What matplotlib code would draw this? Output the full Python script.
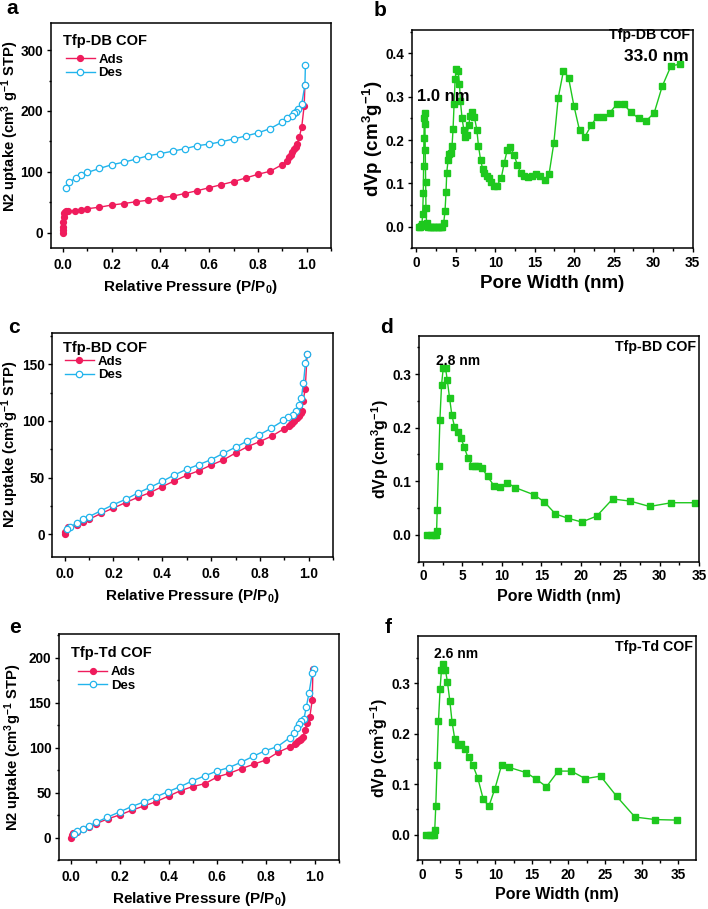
import matplotlib.pyplot as plt
from matplotlib.ticker import MultipleLocator

plt.rcParams['font.family'] = ['Liberation Sans', 'DejaVu Sans']
plt.rcParams['font.weight'] = 'bold'
plt.rcParams['axes.labelweight'] = 'bold'
plt.rcParams['mathtext.fontset'] = 'custom'
plt.rcParams['mathtext.rm'] = 'Liberation Sans:bold'
plt.rcParams['mathtext.it'] = 'Liberation Sans:bold'
plt.rcParams['mathtext.bf'] = 'Liberation Sans:bold'

ADS_COLOR = '#ef1c5c'
DES_COLOR = '#22b4ec'
PSD_COLOR = '#1ec81e'

# --- Tfp-DB COF isotherm (a)
db_ads_p = [0, 0.0005, 0.001, 0.002, 0.003, 0.005, 0.008, 0.012, 0.023, 0.05, 0.075, 0.1,
            0.15, 0.2, 0.25, 0.3, 0.35, 0.4, 0.45, 0.5, 0.55, 0.6, 0.65, 0.7, 0.75, 0.8,
            0.85, 0.9, 0.92, 0.927, 0.934, 0.94, 0.948, 0.955, 0.96, 0.97, 0.98, 0.99, 0.993]
db_ads_v = [0, 4, 10, 18, 26, 32, 34, 35, 36, 36.5, 38, 39.5,
            42, 45.5, 48, 51, 53.5, 57.5, 60, 64.5, 69, 74, 79, 84, 90, 96,
            101, 112, 118, 124, 128, 133, 137, 141, 145, 157, 174, 209, 243]
db_des_p = [0.995, 0.993, 0.98, 0.965, 0.957, 0.948, 0.938, 0.92, 0.9, 0.85, 0.8, 0.75,
            0.7, 0.65, 0.6, 0.55, 0.5, 0.45, 0.4, 0.35, 0.3, 0.25, 0.2, 0.15, 0.1,
            0.075, 0.052, 0.026, 0.011]
db_des_v = [275, 243, 212, 203, 199, 196, 192, 189, 182, 171, 164, 159,
            154, 149.5, 145.6, 143, 138, 134, 130, 126.5, 121, 116, 111.7, 105.6, 99,
            94.7, 89.8, 83, 74]

# --- Tfp-DB COF pore size distribution (b)
db_w = [0.38, 0.5, 0.62, 0.72, 0.81, 0.89, 0.93, 0.97, 1.02, 1.06, 1.1, 1.14, 1.19, 1.23,
        1.31, 1.5, 1.7, 1.9, 2.1, 2.3, 2.5, 2.7, 2.9, 3.1, 3.3, 3.47, 3.64, 3.77, 3.86,
        4.03, 4.19, 4.41, 4.53, 4.66, 4.79, 4.92, 5.08, 5.3, 5.47, 5.59, 5.8, 6.02, 6.19,
        6.4, 6.65, 6.82, 7.08, 7.37, 7.67, 7.88, 8.14, 8.39, 8.64, 8.98, 9.19, 9.49, 9.83,
        10.17, 10.76, 11.14, 11.53, 11.91, 12.37, 12.8, 13.22, 13.69, 14.15, 14.62, 15.13,
        15.72, 16.27, 16.82, 17.42, 17.97, 18.64, 19.28, 19.96, 20.68, 21.36, 22.16, 22.88,
        23.69, 24.49, 25.38, 26.27, 27.2, 28.14, 29.11, 30.13, 31.14, 32.25, 33.35]
db_dv = [0, 0, 0.002, 0.005, 0.03, 0.077, 0.139, 0.205, 0.25, 0.263, 0.236, 0.178, 0.104, 0.042,
         0.008, 0, 0, 0, 0, 0, 0, 0, 0, 0, 0, 0.008, 0.035, 0.08, 0.124,
         0.154, 0.167, 0.17, 0.186, 0.225, 0.283, 0.34, 0.365, 0.36, 0.33, 0.29, 0.25, 0.224, 0.208,
         0.212, 0.234, 0.256, 0.265, 0.252, 0.224, 0.186, 0.155, 0.134, 0.124, 0.118, 0.112, 0.103, 0.093,
         0.093, 0.112, 0.147, 0.178, 0.184, 0.166, 0.143, 0.124, 0.117, 0.114, 0.118, 0.122,
         0.117, 0.107, 0.122, 0.193, 0.297, 0.36, 0.344, 0.279, 0.222, 0.208, 0.234, 0.254,
         0.252, 0.263, 0.282, 0.282, 0.264, 0.25, 0.244, 0.263, 0.324, 0.371, 0.375]

# --- Tfp-BD COF isotherm (c)
bd_ads_p = [0, 0.002, 0.016, 0.05, 0.075, 0.1, 0.15, 0.2, 0.25, 0.3, 0.35, 0.4, 0.45, 0.5,
            0.55, 0.6, 0.65, 0.7, 0.75, 0.8, 0.85, 0.9, 0.918, 0.925, 0.93, 0.94, 0.945,
            0.952, 0.96, 0.966, 0.97, 0.976, 0.985, 0.993]
bd_ads_v = [0, 1.5, 5.9, 8.3, 11, 13, 18.3, 23, 27.8, 32.5, 36.6, 42, 47, 52,
            56, 61, 65.5, 71.7, 77.4, 81.8, 86.8, 93.3, 95.7, 97, 98.6, 100, 101.6,
            103, 104.5, 107, 108.7, 117.5, 128, 159.4]
bd_des_p = [0.993, 0.986, 0.978, 0.969, 0.958, 0.947, 0.935, 0.915, 0.896, 0.846, 0.795,
            0.746, 0.7, 0.65, 0.6, 0.55, 0.5, 0.45, 0.4, 0.35, 0.3, 0.25, 0.2, 0.15, 0.1,
            0.075, 0.05, 0.023, 0.01]
bd_des_v = [159.4, 151.5, 133.5, 120, 113.7, 108.6, 105.4, 103.3, 100.4, 93.6, 87.4,
            82, 76.8, 71.4, 65.8, 61.4, 57.3, 52.3, 46.6, 41.3, 36.3, 30.7, 26, 20.7, 15.4,
            13, 9.4, 6.5, 4.7]

# --- Tfp-BD COF pore size distribution (d)
bd_w = [0.55, 1.05, 1.4, 1.65, 1.73, 1.81, 1.98, 2.15, 2.36, 2.57, 2.87, 3.08, 3.38, 3.67,
        4.0, 4.39, 4.81, 5.23, 5.7, 6.24, 6.54, 6.92, 7.51, 8.19, 8.99, 9.83, 10.72, 11.73,
        14.05, 15.36, 16.8, 18.4, 20.13, 22.03, 24.05, 26.29, 28.73, 31.5, 34.47]
bd_dv = [0, 0, 0, 0, 0.007, 0.047, 0.128, 0.215, 0.28, 0.311, 0.311, 0.289, 0.255, 0.223,
         0.202, 0.192, 0.181, 0.164, 0.144, 0.129, 0.129, 0.128, 0.124, 0.109, 0.092, 0.09, 0.097, 0.088,
         0.075, 0.062, 0.039, 0.031, 0.024, 0.035, 0.067, 0.063, 0.053, 0.06, 0.06]

# --- Tfp-Td COF isotherm (e)
td_ads_p = [0, 0.002, 0.008, 0.025, 0.05, 0.075, 0.1, 0.15, 0.2, 0.25, 0.3, 0.35, 0.4, 0.45,
            0.5, 0.55, 0.6, 0.65, 0.7, 0.75, 0.8, 0.85, 0.9, 0.92, 0.925, 0.932, 0.94,
            0.945, 0.952, 0.96, 0.969, 0.98, 0.99, 0.993]
td_ads_v = [0, 2.6, 4.8, 6.5, 9, 12, 15.2, 20.7, 25.2, 30.4, 35.2, 40, 46, 52.2,
            56.7, 60, 67.4, 71.5, 76.7, 81.5, 86.3, 94.8, 101, 104, 105.6, 107, 108.5,
            110, 112, 120, 127, 133.7, 153, 187.4]
td_des_p = [0.996, 0.99, 0.977, 0.966, 0.956, 0.945, 0.936, 0.928, 0.917, 0.898, 0.847,
            0.798, 0.748, 0.698, 0.648, 0.6, 0.548, 0.498, 0.449, 0.398, 0.348, 0.299,
            0.248, 0.199, 0.149, 0.104, 0.075, 0.049, 0.025, 0.011]
td_des_v = [187.4, 182.6, 161, 145.6, 132, 129.6, 126, 121.5, 116.7, 111, 101,
            96.7, 90.4, 83.7, 77.8, 74, 68.5, 63, 56.7, 51, 45.2, 39.6,
            34.4, 28.5, 22.6, 17, 13.3, 10, 7, 4]

# --- Tfp-Td COF pore size distribution (f)
td_w = [0.59, 1.05, 1.41, 1.64, 1.73, 1.87, 2.05, 2.24, 2.46, 2.65, 2.92, 3.19, 3.47, 3.79,
        4.1, 4.47, 4.88, 5.29, 5.84, 6.39, 6.93, 7.62, 8.35, 9.12, 9.95, 10.86, 11.86,
        14.23, 15.6, 17.0, 18.6, 20.4, 22.3, 24.4, 26.6, 29.1, 31.9, 34.8]
td_dv = [0, 0, 0, 0, 0.01, 0.056, 0.139, 0.225, 0.289, 0.327, 0.337, 0.326, 0.302, 0.265,
         0.223, 0.189, 0.177, 0.18, 0.17, 0.153, 0.138, 0.112, 0.071, 0.056, 0.091, 0.1375, 0.1335,
         0.123, 0.11, 0.095, 0.126, 0.126, 0.111, 0.116, 0.076, 0.035, 0.03, 0.029]


def style_axis(ax, xmaj, ymaj, xpad):
    ax.xaxis.set_major_locator(MultipleLocator(xmaj))
    ax.xaxis.set_minor_locator(MultipleLocator(xmaj / 2))
    ax.yaxis.set_major_locator(MultipleLocator(ymaj))
    ax.yaxis.set_minor_locator(MultipleLocator(ymaj / 2))
    ax.tick_params(which='both', direction='out', width=1.0, labelsize=9.8, top=False, right=False)
    ax.tick_params(which='major', length=3)
    ax.tick_params(which='minor', length=1.8)
    ax.tick_params(axis='y', pad=2.5)
    ax.tick_params(axis='x', pad=xpad)
    for s in ax.spines.values():
        s.set_linewidth(1.1)


def isotherm(ax, ads_p, ads_v, des_p, des_v, name, ylim, ymaj, ylabel,
             title_xy, leg_xy, lab_x, lab_y):
    ax.plot(ads_p, ads_v, '-o', color=ADS_COLOR, ms=4.2, lw=1.0, label='Ads')
    ax.plot(des_p, des_v, '-o', color=DES_COLOR, mfc='white', mec=DES_COLOR, mew=0.9,
            ms=4.6, lw=1.0, label='Des')
    ax.set_xlim(-0.05, 1.1)
    ax.set_ylim(*ylim)
    style_axis(ax, 0.2, ymaj, 4.5)
    ax.xaxis.set_major_formatter(lambda v, pos: '%.1f' % v)
    ax.set_xlabel('Relative Pressure (P/P$_0$)', fontsize=11)
    ax.set_ylabel(ylabel, fontsize=10.6)
    ax.yaxis.set_label_coords(lab_x, lab_y)
    ax.text(title_xy[0], title_xy[1], name, transform=ax.transAxes, ha='left', va='center',
            fontsize=10.5)
    ax.legend(loc='upper left', bbox_to_anchor=leg_xy, frameon=False, fontsize=9.5,
              handlelength=2.2, handletextpad=0.3, labelspacing=0.1,
              borderpad=0, borderaxespad=0)


def psd(ax, w, dv, name, ylim, xlim, name_y, peak_text, peak_xy, peak_size, lab_x, lab_size):
    ax.plot(w, dv, '-s', color=PSD_COLOR, ms=3.7, lw=1.0)
    ax.set_xlim(*xlim)
    ax.set_ylim(*ylim)
    style_axis(ax, 5, 0.1, 2.5)
    ax.yaxis.set_major_formatter(lambda v, pos: '%.1f' % v)
    ax.set_xlabel('Pore Width (nm)', fontsize=lab_size)
    ax.set_ylabel('dVp (cm$^3$g$^{-1}$)', fontsize=lab_size)
    ax.yaxis.set_label_coords(lab_x, 0.5)
    ax.text(0.99, name_y, name, transform=ax.transAxes, ha='right', va='center', fontsize=10.2)
    ax.text(peak_xy[0], peak_xy[1], peak_text, ha='left', va='center', fontsize=peak_size)


fig = plt.figure(figsize=(7.08, 9.09), dpi=100)
W, H = 708, 909


def add_axes(left, top, right, bottom):
    return fig.add_axes([left / W, 1 - bottom / H, (right - left) / W, (bottom - top) / H])


ax_a = add_axes(50.7, 22.7, 331, 248)
ax_b = add_axes(412.3, 30, 692.7, 248.3)
ax_c = add_axes(52.3, 332.7, 333.3, 556.7)
ax_d = add_axes(419, 336, 699, 561.7)
ax_e = add_axes(59, 634.3, 339, 860)
ax_f = add_axes(417.7, 635.7, 695.7, 860)

isotherm(ax_a, db_ads_p, db_ads_v, db_des_p, db_des_v, 'Tfp-DB COF', (-25, 345), 100,
         'N2 uptake (cm$^3$ g$^{-1}$ STP)', (0.045, 0.917), (0.053, 0.863), -0.106, 0.54)
isotherm(ax_c, bd_ads_p, bd_ads_v, bd_des_p, bd_des_v, 'Tfp-BD COF', (-20, 178), 50,
         'N2 uptake (cm$^3$g$^{-1}$ STP)', (0.037, 0.933), (0.045, 0.898), -0.11, 0.5)
isotherm(ax_e, td_ads_p, td_ads_v, td_des_p, td_des_v, 'Tfp-Td COF', (-25, 226), 50,
         'N2 uptake (cm$^3$g$^{-1}$ STP)', (0.042, 0.916), (0.068, 0.86), -0.125, 0.5)

psd(ax_b, db_w, db_dv, 'Tfp-DB COF', (-0.05, 0.454), (-0.5, 35), 0.978, '1.0 nm', (0.1, 0.3), 12,
    -0.097, 13.5)
ax_b.text(34.5, 0.392, '33.0 nm', ha='right', va='center', fontsize=12.5)
psd(ax_d, bd_w, bd_dv, 'Tfp-BD COF', (-0.05, 0.371), (-0.5, 35), 0.953, '2.8 nm', (1.7, 0.324), 10,
    -0.1, 11.5)
psd(ax_f, td_w, td_dv, 'Tfp-Td COF', (-0.05, 0.394), (-0.6, 37.4), 0.951, '2.6 nm', (1.6, 0.357), 10,
    -0.1, 11.5)

for letter, x, y in [('a', 6, 13.5), ('b', 374, 16.5), ('c', 8, 333), ('d', 380, 333),
                     ('e', 9, 633), ('f', 385, 633)]:
    fig.text(x / W, 1 - y / H, letter, ha='left', va='baseline', fontsize=15, fontweight='bold')

fig.savefig('out.png', dpi=100)
